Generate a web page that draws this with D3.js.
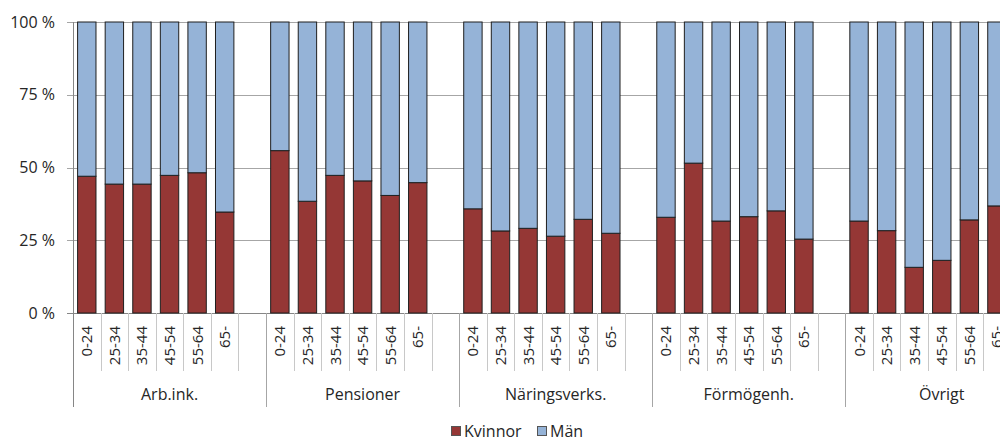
<!DOCTYPE html>
<html>
<head>
<meta charset="utf-8">
<script src="https://cdnjs.cloudflare.com/ajax/libs/d3/7.8.5/d3.min.js"></script>
<style>
  body { margin: 0; background: #fff; }
  text { font-family: "Open Sans", "Lato", sans-serif; fill: #262626; }
</style>
</head>
<body>
<svg id="chart"></svg>
<script>
// andel kvinnor per inkomstslag och åldersgrupp (%), resten är män
var groups = ["Arb.ink.", "Pensioner", "Näringsverks.", "Förmögenh.", "Övrigt"];
var ages = ["0-24", "25-34", "35-44", "45-54", "55-64", "65-"];
var kvinnor = [
  [47.0, 44.3, 44.3, 47.3, 48.2, 34.7],
  [55.8, 38.4, 47.3, 45.4, 40.4, 44.8],
  [35.8, 28.2, 29.1, 26.4, 32.2, 27.4],
  [32.9, 51.5, 31.6, 33.1, 35.1, 25.4],
  [31.6, 28.3, 15.7, 18.1, 32.0, 36.8]
];
var series = ["Kvinnor", "Män"];
var yTicks = [0, 25, 50, 75, 100];

var width = 1000, height = 439;
var colors = { "Kvinnor": "#953735", "Män": "#95b3d7" };

var svg = d3.select("#chart").attr("width", width).attr("height", height);

var plotLeft = 73, plotTop = 22, plotBottom = 313;
var slotsPerGroup = ages.length + 1; // en tom plats efter varje grupp
var slotW = 27.58;

// alla platser, inklusive tomma
var slots = [];
groups.forEach(function(g) {
  for (var i = 0; i < slotsPerGroup; i++) slots.push(g + "|" + i);
});

var x = d3.scaleBand()
  .domain(slots)
  .range([plotLeft, plotLeft + slots.length * slotW])
  .paddingInner(0);

var y = d3.scaleLinear().domain([0, 100]).range([plotBottom, plotTop]);

// rutnät
svg.append("g").selectAll("line")
  .data(yTicks)
  .enter().append("line")
  .attr("x1", plotLeft - 6).attr("x2", width)
  .attr("y1", function(d) { return Math.round(y(d)) + 0.5; })
  .attr("y2", function(d) { return Math.round(y(d)) + 0.5; })
  .attr("stroke", function(d) { return d == 0 ? "#868686" : "#a6a6a6"; })
  .attr("stroke-width", 1);

// y-etiketter
svg.append("g").selectAll("text")
  .data(yTicks)
  .enter().append("text")
  .attr("x", 55)
  .attr("y", function(d) { return y(d); })
  .attr("dy", "0.35em")
  .attr("text-anchor", "end")
  .style("font-size", "16px")
  .text(function(d) { return d + " %"; });

// staplar
var rows = [];
groups.forEach(function(g, gi) {
  ages.forEach(function(a, ai) {
    var k = kvinnor[gi][ai];
    rows.push({ key: g + "|" + ai, age: a, Kvinnor: k, "Män": 100 - k });
  });
});

var stack = d3.stack().keys(series);
var barW = x.bandwidth() * 0.667;
var off = (x.bandwidth() - barW) / 2;

svg.append("g").selectAll("g")
  .data(stack(rows))
  .enter().append("g")
  .attr("fill", function(d) { return colors[d.key]; })
  .selectAll("rect")
  .data(function(d) { return d; })
  .enter().append("rect")
  .attr("x", function(d) { return x(d.data.key) + off; })
  .attr("width", barW)
  .attr("y", function(d) { return y(d[1]); })
  .attr("height", function(d) { return y(d[0]) - y(d[1]); })
  .attr("stroke", "#1f1f1f")
  .attr("stroke-width", 1);

// y-axel
svg.append("line")
  .attr("x1", plotLeft + 0.5).attr("x2", plotLeft + 0.5)
  .attr("y1", plotTop).attr("y2", 407)
  .attr("stroke", "#868686");

// avdelare mellan platser
svg.append("g").selectAll("line")
  .data(slots.slice(1))
  .enter().append("line")
  .attr("x1", function(d) { return Math.round(x(d)) + 0.5; })
  .attr("x2", function(d) { return Math.round(x(d)) + 0.5; })
  .attr("y1", plotBottom)
  .attr("y2", function(d) { return d.split("|")[1] == "0" ? 407 : 371; })
  .attr("stroke", function(d) { return d.split("|")[1] == "0" ? "#a6a6a6" : "#c8c8c8"; });

// åldersetiketter
svg.append("g").selectAll("text")
  .data(rows)
  .enter().append("text")
  .attr("transform", function(d) {
    return "translate(" + (x(d.key) + x.bandwidth() / 2 + 5.5) + ",326) rotate(-90)";
  })
  .attr("text-anchor", "end")
  .style("font-size", "15px")
  .text(function(d) { return d.age; });

// gruppetiketter
svg.append("g").selectAll("text")
  .data(groups)
  .enter().append("text")
  .attr("x", function(g) { return x(g + "|0") + slotsPerGroup * slotW / 2; })
  .attr("y", 400)
  .attr("text-anchor", "middle")
  .style("font-size", "16px")
  .text(function(g) { return g; });

// förklaring
var legend = svg.append("g").attr("transform", "translate(451,426)");
var lx = [0, 86];
series.forEach(function(s, i) {
  var item = legend.append("g").attr("transform", "translate(" + lx[i] + ",0)");
  item.append("rect")
    .attr("x", 0.5).attr("y", 0.5)
    .attr("width", 9).attr("height", 9)
    .attr("fill", colors[s])
    .attr("stroke", "#555");
  item.append("text")
    .attr("x", 13).attr("y", 5)
    .attr("dy", "0.36em")
    .style("font-size", "16px")
    .text(s);
});
</script>
</body>
</html>
